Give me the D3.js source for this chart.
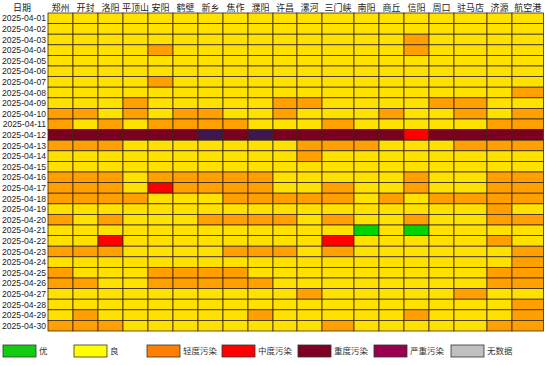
<!DOCTYPE html>
<html><head><meta charset="utf-8">
<script src="https://cdn.jsdelivr.net/npm/d3@7"></script>
<style>
html,body{margin:0;padding:0;background:#fff;}
svg{display:block;font-family:"Noto Sans CJK SC","Liberation Sans",sans-serif;}
</style></head><body>
<svg id="c" width="550" height="365"></svg>
<script>
// ---- data ----
const cities = ["郑州","开封","洛阳","平顶山","安阳","鹤壁","新乡","焦作","濮阳","许昌","漯河","三门峡","南阳","商丘","信阳","周口","驻马店","济源","航空港"];
const dates = d3.range(1, 31).map(d => "2025-04-" + String(d).padStart(2, "0"));
const levels = ["优","良","轻度污染","中度污染","重度污染","严重污染","无数据"];
// AQI level per day (row) per city (column): 0 优,1 良,2 轻度,3 中度,4 重度,5 严重
const aqi = [
  "1111111111111111111", // 01
  "1111111111111111111", // 02
  "1111111111111121111", // 03
  "1111211111111121111", // 04
  "1111111111111111111", // 05
  "1111111111111111111", // 06
  "1111211111111111111", // 07
  "1111111111111111112", // 08
  "1112111112211112211", // 09
  "2212122112111211212", // 10
  "2121222211121111122", // 11
  "4444445454444434444", // 12
  "2221111111222111222", // 13
  "1111111111211111111", // 14
  "1111111111111111111", // 15
  "2221222221111121122", // 16
  "2221322221121121122", // 17
  "2222111222221212222", // 18
  "1111111111111111121", // 19
  "2121112222121121122", // 20
  "1111111111110101111", // 21
  "1131111111131111121", // 22
  "2221111222121111112", // 23
  "1111111111111111112", // 24
  "2111222211111111122", // 25
  "2211222221111111122", // 26
  "1111111111211111211", // 27
  "1111111111111111112", // 28
  "1211111121111121112", // 29
  "2221111111121111122"  // 30
];

// ---- layout ----
const colWeights = [25,25,25,25,25,25,25,25,25,24,25,32,25,25,25,25,33,25,31.5];
const gridL = 48, gridT = 13, gridB = 331;
const cellColors = ["#00D400","#FFE100","#FFA000","#FF0000","#7A0020","#3E1650","#C0C0C0"];
const legendColors = ["#11CC11","#FFFF00","#FF7F00","#FF0000","#7F0020","#990050","#C0C0C0"];

const svg = d3.select("#c");
const offsets = d3.cumsum([0, ...colWeights]);
const xStart = d3.scaleOrdinal().domain(cities).range(cities.map((c,i) => gridL + offsets[i]));
const xWidth = d3.scaleOrdinal().domain(cities).range(colWeights);
const y = d3.scaleBand().domain(dates).range([gridT, gridB]).padding(0);
const color = d3.scaleOrdinal().domain(d3.range(7)).range(cellColors);

const cells = [];
dates.forEach((d, r) => cities.forEach((c, k) => cells.push({date: d, city: c, v: +aqi[r][k]})));

svg.append("g").selectAll("rect").data(cells).join("rect")
  .attr("x", d => xStart(d.city))
  .attr("y", d => y(d.date))
  .attr("width", d => xWidth(d.city))
  .attr("height", y.bandwidth())
  .attr("fill", d => color(d.v))
  .attr("stroke", "#3a2a10")
  .attr("stroke-width", 0.8);

// row labels
svg.append("g").selectAll("text").data(dates).join("text")
  .attr("x", 46).attr("y", d => y(d) + y.bandwidth()/2)
  .attr("dy", "0.35em").attr("text-anchor", "end")
  .attr("font-family", "Liberation Sans, Arial, sans-serif")
  .attr("font-size", 8.6).attr("fill", "#222")
  .text(d => d);

// column headers
svg.append("g").selectAll("text").data(cities).join("text")
  .attr("x", d => xStart(d) + xWidth(d)/2).attr("y", 8)
  .attr("dy", "0.35em").attr("text-anchor", "middle")
  .attr("font-size", 9).attr("fill", "#222")
  .text(d => d);
svg.append("text").attr("x", 22).attr("y", 8).attr("dy", "0.35em")
  .attr("text-anchor", "middle").attr("font-size", 9).attr("fill", "#222").text("日期");

// legend
const legX = [3, 74, 147, 222, 298, 374, 451];
const lg = svg.append("g").selectAll("g").data(levels).join("g")
  .attr("transform", (d,i) => `translate(${legX[i]},345)`);
lg.append("rect").attr("width", 33).attr("height", 12)
  .attr("fill", (d,i) => legendColors[i]).attr("stroke", "#333").attr("stroke-width", 0.8);
lg.append("text").attr("x", 36).attr("y", 6).attr("dy", "0.35em")
  .attr("font-size", 8.5).attr("fill", "#333").text(d => d);
</script></body></html>
